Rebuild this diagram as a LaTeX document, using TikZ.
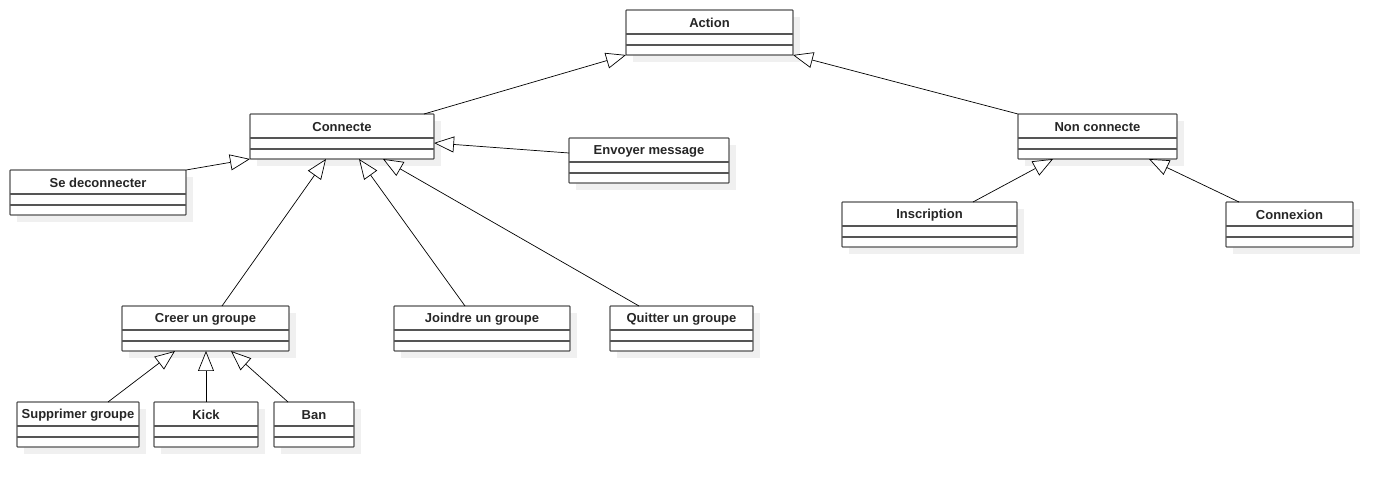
\documentclass[tikz,border=0pt]{standalone}
\usepackage{fontspec}
\setmainfont{Liberation Sans}
\usetikzlibrary{arrows.meta,calc}
\definecolor{shadowc}{RGB}{240,240,240}
\definecolor{boxc}{RGB}{85,85,85}
\tikzset{
  classbox/.style={draw=boxc, line width=1.2pt, fill=white, anchor=north west,
    inner sep=0pt, outer sep=0pt, minimum height=45pt, rounded corners=0.8pt},
  sepline/.style={draw=boxc, line width=1.2pt},
  ctext/.style={font=\fontsize{13}{15}\selectfont\bfseries, text=black!85, inner sep=0pt},
  inh/.style={-{Triangle[open,length=20pt,width=16pt,fill=white]}, black, line width=0.7pt},
}
\newcommand{\umlbox}[5]{%
  \fill[shadowc] (#2+7,#3+7) rectangle (#4+7,#3+52);
  \node[classbox, minimum width={#4-#2}] (#1) at (#2,#3) {};
  \draw[sepline] ([yshift=-24]#1.north west) -- ([yshift=-24]#1.north east);
  \draw[sepline] ([yshift=-35]#1.north west) -- ([yshift=-35]#1.north east);
  \node[ctext] (#1-t) at ([yshift=-13.2]#1.north) {#5};
}
\begin{document}
\begin{tikzpicture}[x=1pt,y=-1pt]
\useasboundingbox[fill=white] (0,0) rectangle (1393,486);
\umlbox{action}{626}{10}{793}{Action}
\umlbox{connecte}{250}{114}{434}{Connecte}
\umlbox{nonconn}{1018}{114}{1177}{Non connecte}
\umlbox{sedeco}{10}{170}{186}{Se deconnecter}
\umlbox{envoyer}{569}{138}{729}{Envoyer message}
\umlbox{inscr}{842}{202}{1017}{Inscription}
\umlbox{connex}{1226}{202}{1353}{Connexion}
\umlbox{creer}{122}{306}{289}{Creer un groupe}
\umlbox{joindre}{394}{306}{570}{Joindre un groupe}
\umlbox{quitter}{610}{306}{753}{Quitter un groupe}
\umlbox{suppr}{17}{402}{139}{Supprimer groupe}
\umlbox{kick}{154}{402}{258}{Kick}
\umlbox{ban}{274}{402}{354}{Ban}
% inheritance
\draw[inh] ([xshift=174]connecte.north west) -- (action.south west);
\draw[inh] (nonconn.north west) -- (action.south east);
\draw[inh] (sedeco.north east) -- (connecte.south west);
\draw[inh] ([yshift=-15]envoyer.north west) -- ([yshift=-29]connecte.north east);
\draw[inh] ([xshift=100]creer.north west) -- ([xshift=76]connecte.south west);
\draw[inh] ([xshift=71]joindre.north west) -- ([xshift=109]connecte.south west);
\draw[inh] ([xshift=29]quitter.north west) -- ([xshift=133]connecte.south west);
\draw[inh] ([xshift=91]suppr.north west) -- ([xshift=53]creer.south west);
\draw[inh] (kick.north) -- (kick.north |- creer.south);
\draw[inh] ([xshift=14]ban.north west) -- ([xshift=109]creer.south west);
\draw[inh] ([xshift=131]inscr.north west) -- ([xshift=35]nonconn.south west);
\draw[inh] ([xshift=13]connex.north west) -- ([xshift=131]nonconn.south west);
\end{tikzpicture}
\end{document}
